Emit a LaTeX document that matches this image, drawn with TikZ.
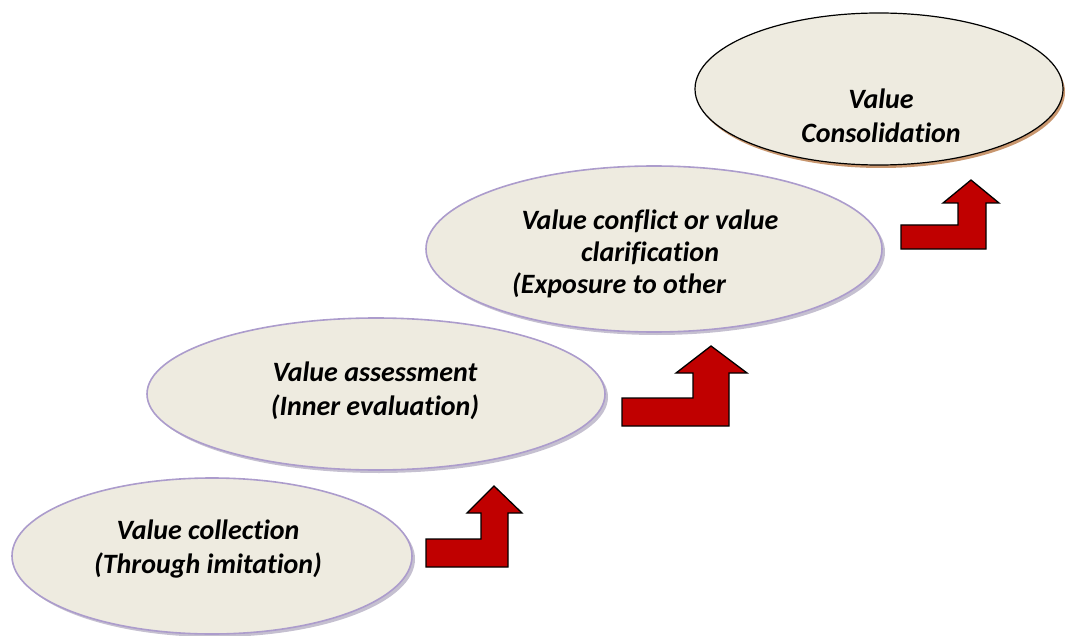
\documentclass[tikz,border=0pt]{standalone}
\usepackage{fontspec}
\setmainfont{Carlito}[Ligatures=NoCommon]
\usetikzlibrary{shapes.geometric}
\definecolor{ovfill}{RGB}{238,235,224}
\definecolor{ovline}{RGB}{172,156,204}
\definecolor{ovshadow}{RGB}{150,140,170}
\definecolor{brshadow}{RGB}{200,150,110}
\definecolor{arrred}{RGB}{192,0,0}
\tikzset{
  oval/.style={ellipse, draw=ovline, line width=1.6pt, fill=ovfill, inner sep=0pt},
  ovalshadow/.style={ellipse, fill=ovshadow, opacity=0.55, inner sep=0pt},
  txt/.style={font=\fontsize{28}{34}\selectfont\bfseries\itshape, align=center, inner sep=0pt},
  bentarrow/.style={fill=arrred, draw=black, line width=1.3pt, line join=miter}
}
\begin{document}
\begin{tikzpicture}[x=1pt,y=-1pt]
\useasboundingbox (0,0) rectangle (1067,636);
% shadows
\node[ovalshadow, minimum width=400, minimum height=156] at (215,559) {};
\node[ovalshadow, minimum width=458, minimum height=152] at (379,397) {};
\node[ovalshadow, minimum width=456, minimum height=166] at (657,252) {};
\node[ellipse, fill=brshadow, inner sep=0pt, minimum width=368, minimum height=152] at (881,92) {};
% ovals
\node[oval, minimum width=400, minimum height=156] (o1) at (212,556) {};
\node[oval, minimum width=458, minimum height=152] (o2) at (376,394) {};
\node[oval, minimum width=456, minimum height=166] (o3) at (654,249) {};
\node[oval, draw=black, line width=1.2pt, minimum width=368, minimum height=152] (o4) at (879,89) {};
% texts
\node[txt] (t1) at (208,549) {Value collection\\(Through imitation)};
\node[txt] (t2) at (375,391) {Value assessment\\(Inner evaluation)};
\node[txt] (t3a) at (650,221) {Value conflict or value};
\node[txt] (t3b) at (650,253) {clarification};
\node[txt, anchor=west] (t3c) at (512,285) {(Exposure to other};
\node[txt] (t4) at (881,116) {Value\\Consolidation};
% arrows
\draw[bentarrow] (426,567) -- (426,539) -- (481,539) -- (481,513) -- (467,513) -- (494,486) -- (522,513) -- (508,513) -- (508,567) -- cycle;
\draw[bentarrow] (622,426) -- (622,398) -- (693,398) -- (693,373) -- (676,373) -- (711,346) -- (747,373) -- (729,373) -- (729,426) -- cycle;
\draw[bentarrow] (901,249) -- (901,225) -- (958,225) -- (958,203) -- (943,203) -- (971,180) -- (999,203) -- (986,203) -- (986,249) -- cycle;
\end{tikzpicture}
\end{document}
